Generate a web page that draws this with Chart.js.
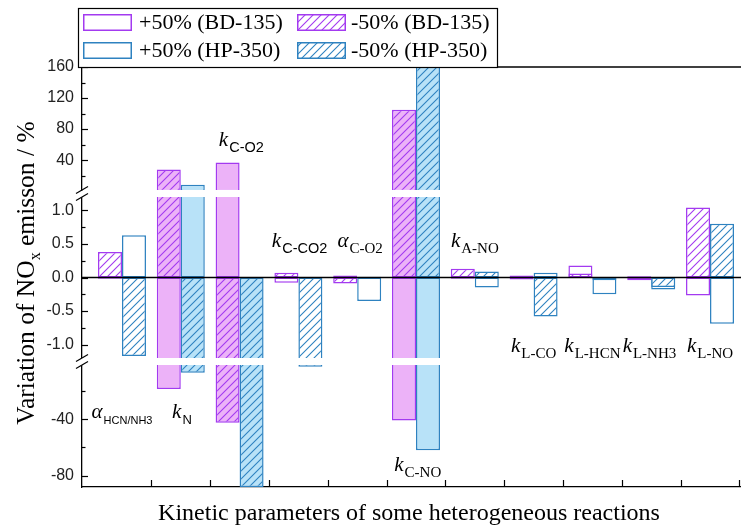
<!DOCTYPE html>
<html><head><meta charset="utf-8">
<script src="https://cdn.jsdelivr.net/npm/chart.js@4"></script>
<style>
html,body{margin:0;padding:0;background:#fff;overflow:hidden;}
#wrap{position:relative;width:741px;height:526px;overflow:hidden;background:#fff;}
canvas{position:absolute;left:0;top:0;}
</style></head><body>
<div id="wrap">
<canvas id="cBot" width="750" height="526"></canvas>
<canvas id="cMid" width="750" height="526"></canvas>
<canvas id="cTop" width="750" height="526"></canvas>
</div>
<script>
// ---------------- data ----------------
const categories = ['αHCN/NH3','kN','kC-O2','kC-CO2','αC-O2','kC-NO','kA-NO','kL-CO','kL-HCN','kL-NH3','kL-NO'];
const seriesNames = ['+50% (BD-135)','-50% (BD-135)','+50% (HP-350)','-50% (HP-350)'];
const plus50BD  = [-0.02, -18.6, 37.0, -0.08, 0.03, -41.0, -0.02, -0.03, 0.18, -0.04, -0.27];
const minus50BD = [0.38, 28.0, -42.6, 0.07, -0.09, 105.0, 0.13, 0.03, 0.06, 0.02, 1.045];
const plus50HP  = [0.63, 8.2, 0, 0, -0.35, -62.0, -0.15, 0.07, -0.25, -0.18, -0.69];
const minus50HP = [-1.17, -7.1, -88, -3.0, 0.01, 165, 0.09, -0.58, -0.04, -0.14, 0.80];
const topTicks = [20,40,60,80,100,120,140,160];
const topLabels = [40,80,120,160];
const midTicks = [-1.0,-0.75,-0.5,-0.25,0,0.25,0.5,0.75,1.0];
const midLabels = [-1.0,-0.5,0,0.5,1.0];
const botTicks = [-80,-60,-40,-20];
const botLabels = [-80,-40];
const xTickPos = [1.5,2.5,3.5,4.5,5.5,6.5,7.5,8.5,9.5,10.5,11.5];
const yTitle = ['Variation of NO','x',' emisson / %'];
const xTitle = 'Kinetic parameters of some heterogeneous reactions';
// annotation labels: symbol, subscript, anchor in data coords of a segment
const annotations = [
  {sym:'α', sub:'HCN/NH3', x:1.0,  y:-39.3, seg:'bot', sans:true,  subSize:11},
  {sym:'k', sub:'N',       x:2.02, y:-39.3, seg:'bot', sans:true,  subSize:13},
  {sym:'k', sub:'C-O2',    x:3.03, y:58,    seg:'top', sans:true,  subSize:14.5},
  {sym:'k', sub:'C-CO2',   x:4.02, y:0.45,  seg:'mid', sans:true,  subSize:14.5},
  {sym:'α', sub:'C-O2',    x:5.05, y:0.45,  seg:'mid', sans:false, subSize:15},
  {sym:'k', sub:'C-NO',    x:6.03, y:-77,   seg:'bot', sans:false, subSize:15},
  {sym:'k', sub:'A-NO',    x:7.0,  y:0.45,  seg:'mid', sans:false, subSize:15},
  {sym:'k', sub:'L-CO',    x:8.0,  y:-1.115,seg:'mid', sans:false, subSize:15},
  {sym:'k', sub:'L-HCN',   x:9.0,  y:-1.115,seg:'mid', sans:false, subSize:15},
  {sym:'k', sub:'L-NH3',   x:9.97, y:-1.115,seg:'mid', sans:false, subSize:15},
  {sym:'k', sub:'L-NO',    x:11.0, y:-1.115,seg:'mid', sans:false, subSize:15}
];

// ---------------- style ----------------
const COL = {bdLine:'#a33af0', bdFill:'#ecb2f8', hpLine:'#2e82c0', hpFill:'#b8e2f8'};
const SERIF = '"Liberation Serif", "Times New Roman", serif';
const SANS = '"Liberation Sans", Arial, sans-serif';
Chart.defaults.font.family = SANS;

const patCache = new WeakMap();
function pattern(chart, line, bg){
  let m = patCache.get(chart); if(!m){m={};patCache.set(chart,m);}
  const key=line+'|'+bg; if(m[key]) return m[key];
  const s=8, c=document.createElement('canvas'); c.width=s; c.height=s;
  const g=c.getContext('2d'); g.fillStyle=bg; g.fillRect(0,0,s,s);
  g.strokeStyle=line; g.lineWidth=1.1; g.beginPath();
  g.moveTo(-1,s+1); g.lineTo(s+1,-1);
  g.moveTo(-1,1); g.lineTo(1,-1);
  g.moveTo(s-1,s+1); g.lineTo(s+1,s-1);
  g.stroke();
  return m[key]=chart.ctx.createPattern(c,'repeat');
}
const BIG = 5;
function makeDatasets(){
  const mk=(label,vals,stack,plus,line,fill,order)=>({
    label, stack, order,
    data: vals.map((v,i)=>({x:i+1,y:v})),
    borderColor: line, borderWidth:1.5, borderSkipped:false,
    backgroundColor: c => {
      const v = (c.raw && typeof c.raw.y==='number') ? c.raw.y : 0;
      const bg = Math.abs(v)>BIG ? fill : '#ffffff';
      return plus ? bg : pattern(c.chart,line,bg);
    },
    clip: 0, categoryPercentage: 0.816, barPercentage: 1
  });
  return [
    mk(seriesNames[0], plus50BD,  'BD', true,  COL.bdLine, COL.bdFill, 1),
    mk(seriesNames[1], minus50BD, 'BD', false, COL.bdLine, COL.bdFill, 0),
    mk(seriesNames[2], plus50HP,  'HP', true,  COL.hpLine, COL.hpFill, 1),
    mk(seriesNames[3], minus50HP, 'HP', false, COL.hpLine, COL.hpFill, 0)
  ];
}

const segDefs = [
 {key:'bot', id:'cBot', min:-88, max:-1.7, top:365, bottom:487, ticks:botTicks, labels:botLabels, fmt:v=>String(v)},
 {key:'mid', id:'cMid', min:-1.2, max:1.2, top:197, bottom:358, ticks:midTicks, labels:midLabels, fmt:v=>v.toFixed(1)},
 {key:'top', id:'cTop', min:1.5, max:160, top:67, bottom:190, ticks:topTicks, labels:topLabels, fmt:v=>String(v)}
];
const segById = {};
segDefs.forEach(s=>segById[s.id]=s);

function drawSymSub(ctx, x, y, a){
  const symFont = 'italic 21px '+SERIF;
  const subFont = a.subSize+'px '+(a.sans?SANS:SERIF);
  ctx.font=symFont; const w1=ctx.measureText(a.sym).width;
  ctx.font=subFont; const w2=ctx.measureText(a.sub).width;
  const x0=x-(w1+w2+1)/2;
  ctx.fillStyle='#000'; ctx.textAlign='left'; ctx.textBaseline='alphabetic';
  ctx.font=symFont; ctx.fillText(a.sym,x0,y);
  ctx.font=subFont; ctx.fillText(a.sub,x0+w1+1,y+6);
}

const decor = {
  id:'decor',
  afterDatasetsDraw(chart){
    const seg = segById[chart.canvas.id], ctx = chart.ctx, ca = chart.chartArea;
    if(!seg) return;
    ctx.save();
    if(seg.key==='mid'){
      const y0 = chart.scales.y.getPixelForValue(0);
      ctx.strokeStyle='#000'; ctx.lineWidth=1.5;
      ctx.beginPath(); ctx.moveTo(ca.left,y0); ctx.lineTo(ca.right,y0); ctx.stroke();
    }
    ctx.restore();
  },
  afterDraw(chart){
    const seg = segById[chart.canvas.id], ctx = chart.ctx, ca = chart.chartArea;
    if(!seg) return;
    const xs = chart.scales.x, ys = chart.scales.y;
    ctx.save();
    // inward y tick marks
    ctx.strokeStyle='#000'; ctx.lineWidth=1.2;
    ys.ticks.forEach(t=>{
      const p = Math.round(ys.getPixelForValue(t.value))+0.5;
      const len = seg.labels.includes(t.value) ? 6 : 3.5;
      ctx.beginPath(); ctx.moveTo(ca.left,p); ctx.lineTo(ca.left+len,p); ctx.stroke();
    });
    // annotations for this segment
    annotations.filter(a=>a.seg===seg.key).forEach(a=>{
      drawSymSub(ctx, xs.getPixelForValue(a.x), ys.getPixelForValue(a.y), a);
    });
    if(seg.key==='top'){
      ctx.strokeStyle='#000'; ctx.lineWidth=1.3;
      ctx.beginPath(); ctx.moveTo(ca.left, ca.top); ctx.lineTo(ca.right, ca.top); ctx.stroke();
      const lx=78, ly=8, lw=419, lh=59;
      ctx.fillStyle='#fff'; ctx.fillRect(lx,ly,lw,lh);
      ctx.strokeStyle='#000'; ctx.lineWidth=1.2; ctx.strokeRect(lx+0.5,ly+0.5,lw,lh);
      const ds = chart.data.datasets;
      const items=[{d:0,col:0,row:0},{d:1,col:1,row:0},{d:2,col:0,row:1},{d:3,col:1,row:1}];
      items.forEach(it=>{
        const d = ds[it.d];
        const sx = 83 + it.col*214, sy = 14 + it.row*28, sw=49, sh=17;
        const plus = it.d%2===0;
        ctx.fillStyle = plus ? '#fff' : pattern(chart, d.borderColor, '#fff');
        ctx.fillRect(sx,sy,sw,sh);
        ctx.strokeStyle=d.borderColor; ctx.lineWidth=1.5;
        ctx.strokeRect(sx+0.75,sy+0.75,sw-1.5,sh-1.5);
        ctx.fillStyle='#000'; ctx.font='22px '+SERIF; ctx.textAlign='left'; ctx.textBaseline='middle';
        ctx.fillText(d.label, 139 + it.col*212, sy+sh/2+1);
      });
    }
    if(seg.key==='mid'){
      const L = ca.left;
      const marks = [[ca.top-7, ca.top],[ca.bottom, ca.bottom+7]];
      marks.forEach(([a,b])=>{
        ctx.fillStyle='#fff';
        ctx.beginPath(); ctx.moveTo(L-6,a+3.5); ctx.lineTo(L+6,a-3.5); ctx.lineTo(L+6,b-3.5); ctx.lineTo(L-6,b+3.5); ctx.closePath(); ctx.fill();
        ctx.strokeStyle='#000'; ctx.lineWidth=1.2;
        [a,b].forEach(y=>{ ctx.beginPath(); ctx.moveTo(L-6,y+3.5); ctx.lineTo(L+6,y-3.5); ctx.stroke(); });
      });
    }
    if(seg.key==='bot'){
      ctx.strokeStyle='#000'; ctx.lineWidth=1.2;
      xTickPos.forEach(v=>{
        const p = Math.round(xs.getPixelForValue(v))+0.5;
        ctx.beginPath(); ctx.moveTo(p,ca.bottom); ctx.lineTo(p,ca.bottom-7); ctx.stroke();
      });
      ctx.fillStyle='#000'; ctx.font='24px '+SERIF; ctx.textAlign='center'; ctx.textBaseline='alphabetic';
      ctx.fillText(xTitle, 409, 520);
      ctx.translate(34, 273); ctx.rotate(-Math.PI/2);
      const f1='25.5px '+SERIF, f2='16px '+SERIF;
      ctx.font=f1; const w1=ctx.measureText(yTitle[0]).width, w3=ctx.measureText(yTitle[2]).width;
      ctx.font=f2; const w2=ctx.measureText(yTitle[1]).width;
      let x0 = -(w1+w2+w3)/2;
      ctx.textAlign='left';
      ctx.font=f1; ctx.fillText(yTitle[0],x0,0); x0+=w1;
      ctx.font=f2; ctx.fillText(yTitle[1],x0,6); x0+=w2;
      ctx.font=f1; ctx.fillText(yTitle[2],x0,0);
    }
    ctx.restore();
  }
};

segDefs.forEach(seg=>{
  new Chart(document.getElementById(seg.id), {
    type:'bar',
    data:{datasets: makeDatasets()},
    options:{
      responsive:false, animation:false, events:[],
      layout:{padding:{left:0,right:0,top:seg.top,bottom:526-seg.bottom}},
      plugins:{legend:{display:false}, tooltip:{enabled:false}},
      scales:{
        x:{type:'linear', min:0.32, max:11.68, stacked:true, offset:false, display: seg.key==='bot',
           grid:{display:false, drawTicks:false, offset:false}, ticks:{display:false},
           border:{display:true, color:'#000', width:1.3},
           afterFit:s=>{s.height=0;}},
        y:{type:'linear', min:seg.min, max:seg.max, stacked:false,
           grid:{display:false, drawTicks:false},
           border:{display:true, color:'#000', width:1.3},
           ticks:{padding:8, color:'#222', autoSkip:false, font:{family:SANS, size:16},
                  callback:v=> seg.labels.includes(v) ? seg.fmt(v) : ''},
           afterBuildTicks:s=>{ s.ticks = seg.ticks.map(v=>({value:v})); },
           afterFit:s=>{s.width=82;}}
      }
    },
    plugins:[decor]
  });
});
</script>
</body></html>
